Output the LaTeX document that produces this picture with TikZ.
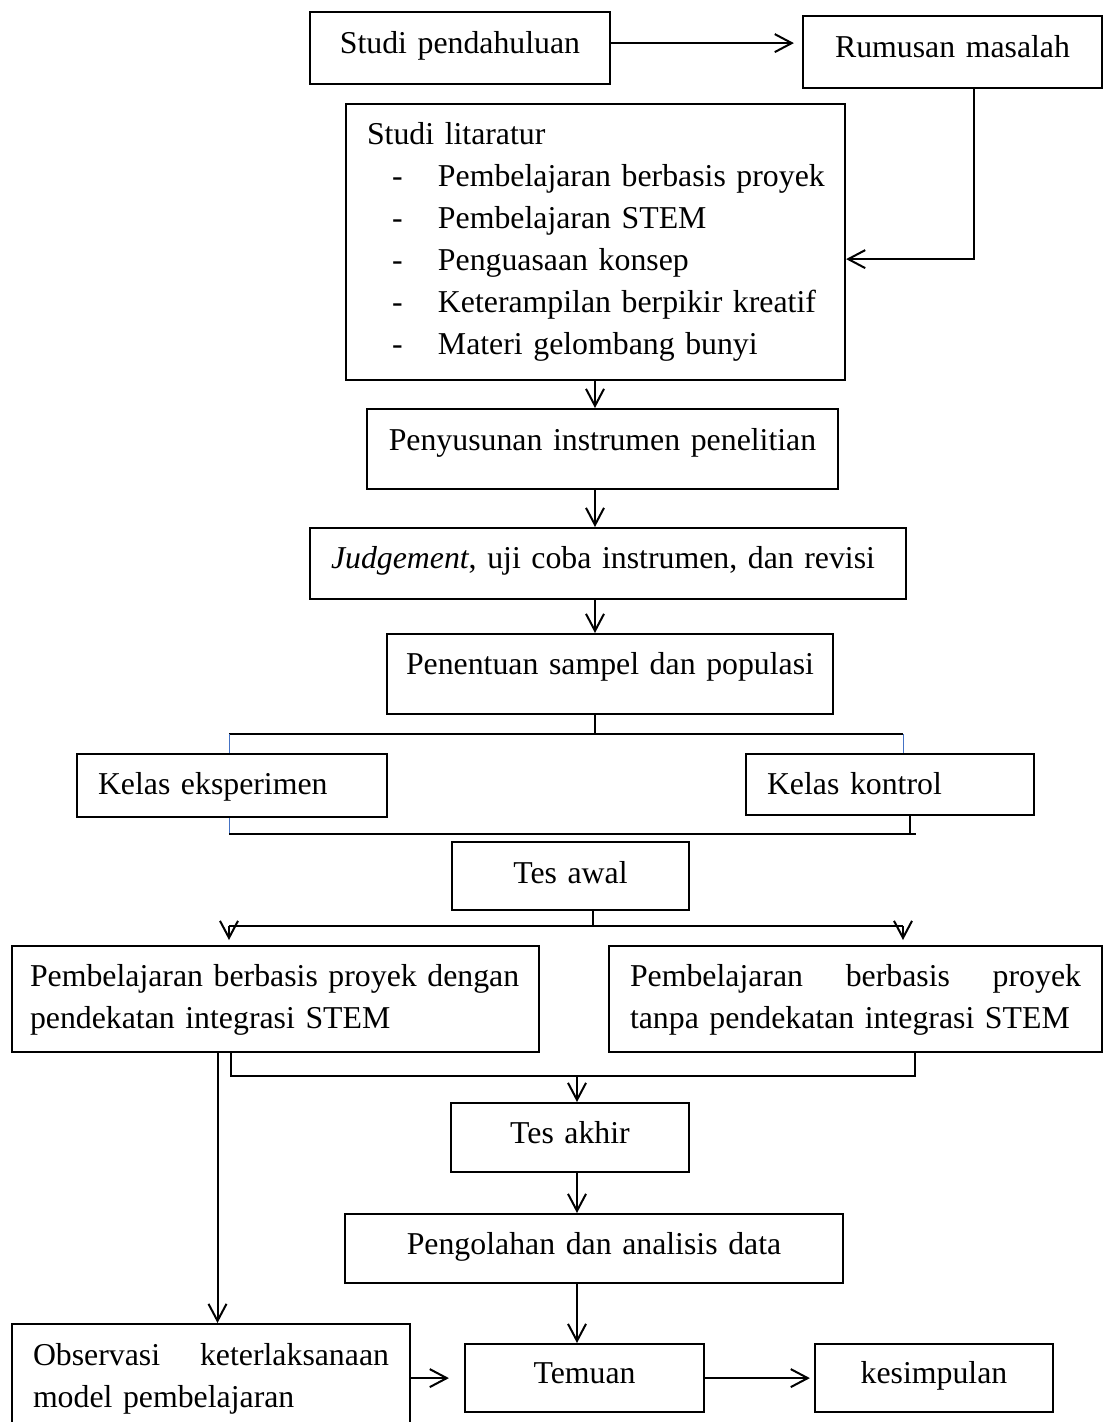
\documentclass[tikz,border=0pt]{standalone}
\usepackage{fontspec}
\setmainfont{Liberation Serif}
\usetikzlibrary{arrows.meta}
\definecolor{biru}{RGB}{68,114,196}
\newcommand{\teks}{\fontsize{31.8}{42}\selectfont}

\begin{document}
\begin{tikzpicture}[x=1pt, y=-1pt, line width=2pt,
  >={Straight Barb[length=17pt, width=18pt]},
  kotak/.style={draw, line width=2.2pt, inner xsep=21pt, inner ysep=0pt, anchor=north, font=\teks, text height=40pt},
  tengah/.style={kotak, align=center, inner xsep=4pt},
  rata/.style={kotak, align=left}]

\useasboundingbox (0,0) rectangle (1104,1422);

\coordinate (sumbu) at (595,0);
\coordinate (sumbu2) at (577,0);
\coordinate (xkiri) at (229,0);
\coordinate (xkanan) at (903,0);

\node[tengah, text width=292pt, text height=41pt, text depth=31pt] (studi) at (460,11) {Studi pendahuluan};
\node[tengah, text width=291pt, text height=41pt, text depth=31pt] (rumusan) at (952.5,15) {Rumusan masalah};
\node[rata, text width=457pt, text depth=236pt] (literatur) at (595.5,103) {Studi litaratur\\
  \hspace*{25pt}\makebox[46pt][l]{-}\mbox{Pembelajaran berbasis proyek}\\
  \hspace*{25pt}\makebox[46pt][l]{-}\mbox{Pembelajaran STEM}\\
  \hspace*{25pt}\makebox[46pt][l]{-}\mbox{Penguasaan konsep}\\
  \hspace*{25pt}\makebox[46pt][l]{-}\mbox{Keterampilan berpikir kreatif}\\
  \hspace*{25pt}\makebox[46pt][l]{-}\mbox{Materi gelombang bunyi}};
\node[tengah, text width=463pt, text height=41pt, text depth=39pt] (susun) at (602.5,408) {Penyusunan instrumen penelitian};
\node[rata, text width=554pt, text depth=31pt] (judgement) at (608,527) {\mbox{\textit{Judgement}, uji coba instrumen, dan revisi}};
\node[tengah, text width=438pt, text depth=40pt] (sampel) at (610,633) {Penentuan sampel dan populasi};
\node[rata, text width=268pt, text depth=23pt] (eksperimen) at (232,753) {Kelas eksperimen};
\node[rata, text width=246pt, text depth=21pt] (kontrol) at (890,753) {Kelas kontrol};
\node[tengah, text width=229pt, text height=41pt, text depth=27pt] (tesawal) at (570.5,841) {Tes awal};
\node[rata, inner xsep=18pt, text width=491pt, text depth=66pt] (pjbl) at (275.5,945) {\mbox{Pembelajaran berbasis proyek dengan}\\\mbox{pendekatan integrasi STEM}};
\node[rata, text width=451pt, text depth=66pt] (tanpa) at (855.5,945) {Pembelajaran\hfill berbasis\hfill proyek\\\mbox{tanpa pendekatan integrasi STEM}};
\node[tengah, text width=230pt, text depth=29pt] (tesakhir) at (570,1102) {Tes akhir};
\node[tengah, text width=490pt, text depth=29pt] (olah) at (594,1213) {Pengolahan dan analisis data};
\node[rata, text width=356pt, text height=41pt, text depth=66pt] (observasi) at (211,1323) {Observasi\hfill keterlaksanaan\\\mbox{model pembelajaran}};
\node[tengah, text width=231pt, text height=39pt, text depth=29pt] (temuan) at (584.5,1343) {Temuan};
\node[tengah, text width=230pt, text height=39pt, text depth=29pt] (simpulan) at (934,1343) {kesimpulan};

\draw[->, shorten >=8pt] ([yshift=5pt]studi.east) -- ([yshift=5pt]studi.east -| rumusan.west);
\draw[->] ([xshift=21pt]rumusan.south) |- ([yshift=-17pt]literatur.east);
\draw[->] (literatur.south -| sumbu) -- (susun.north -| sumbu);
\draw[->] (susun.south -| sumbu) -- (judgement.north -| sumbu);
\draw[->] (judgement.south -| sumbu) -- (sampel.north -| sumbu);

\draw (sampel.south -| sumbu) -- ++(0,19) coordinate (c1);
\draw (c1 -| xkiri) -- (c1 -| xkanan);
\draw[biru, line width=1pt] (c1 -| xkiri) -- (eksperimen.north -| xkiri);
\draw[biru, line width=1pt] (c1 -| xkanan) -- (kontrol.north -| xkanan);
\draw[biru, line width=1pt] (eksperimen.south -| xkiri) -- ++(0,16) coordinate (c2);
\draw (c2) -- ([xshift=26pt]kontrol.south |- c2);
\draw ([xshift=20pt]kontrol.south) -- ([xshift=20pt]kontrol.south |- c2);

\draw ([xshift=22pt]tesawal.south) -- ++(0,15) coordinate (c3);
\draw (c3 -| xkiri) -- (c3 -| xkanan);
\draw[->] (c3 -| xkiri) -- ([yshift=5pt]pjbl.north -| xkiri);
\draw[->] (c3 -| xkanan) -- ([yshift=5pt]tanpa.north -| xkanan);

\draw[->] ([xshift=-58pt]pjbl.south) -- ([xshift=-58pt]pjbl.south |- observasi.north);
\draw ([xshift=-45pt]pjbl.south) -- ++(0,23) coordinate (c4) -| ([xshift=59pt]tanpa.south);
\draw[->] (c4 -| sumbu2) -- (tesakhir.north -| sumbu2);
\draw[->] (tesakhir.south -| sumbu2) -- (olah.north -| sumbu2);
\draw[->] (olah.south -| sumbu2) -- (temuan.north -| sumbu2);
\draw[->, shorten >=15pt] (observasi.east |- temuan.west) -- (temuan.west);
\draw[->, shorten >=4pt] (temuan.east) -- (simpulan.west);

\end{tikzpicture}
\end{document}
